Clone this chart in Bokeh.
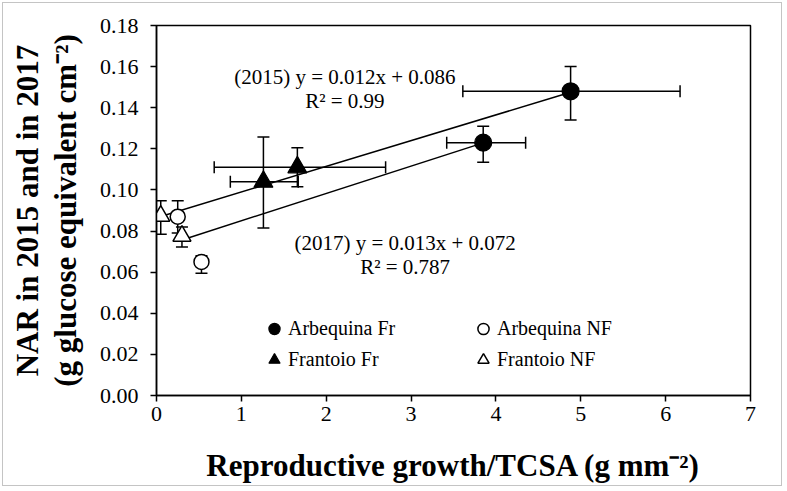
from bokeh.plotting import figure
from bokeh.models import (ColumnDataSource, Whisker, Legend, LegendItem, Range1d,
                          Label, FixedTicker, TeeHead, NumeralTickFormatter)
from bokeh.embed import file_html
from bokeh.resources import INLINE

# ---------------- data ----------------
# each series: [2015, 2017]
arb_fr_x = [4.88, 3.85]
arb_fr_y = [0.148, 0.123]
arb_fr_xlo = [3.61, 3.42]
arb_fr_xhi = [6.17, 4.35]
arb_fr_ylo = [0.134, 0.1135]
arb_fr_yhi = [0.160, 0.131]

arb_nf_x = [0.25, 0.53]
arb_nf_y = [0.087, 0.065]
arb_nf_ylo = [0.079, 0.0595]
arb_nf_yhi = [0.0948, 0.068]

fr_fr_x = [1.66, 1.26]
fr_fr_y = [0.111, 0.104]
fr_fr_xlo = [0.68, 0.87]
fr_fr_xhi = [2.70, 1.67]
fr_fr_ylo = [0.1015, 0.0815]
fr_fr_yhi = [0.1205, 0.1258]

fr_nf_x = [0.05, 0.30]
fr_nf_y = [0.0873, 0.0776]
fr_nf_ylo = [0.0785, 0.0722]
fr_nf_yhi = [0.0948, 0.082]

# trend lines (slope, intercept, x-range)
trend_years = ["2015", "2017"]
trend_slope = [0.0125, 0.0133]
trend_intercept = [0.0865, 0.0717]
trend_xmin = [0.05, 0.30]
trend_xmax = [4.88, 3.85]
eq_text_2015 = ["(2015) y = 0.012x + 0.086", "R² = 0.99"]
eq_text_2017 = ["(2017) y = 0.013x + 0.072", "R² = 0.787"]

x_ticks = [0, 1, 2, 3, 4, 5, 6, 7]
y_ticks = [0.00, 0.02, 0.04, 0.06, 0.08, 0.10, 0.12, 0.14, 0.16, 0.18]

FONT = "Liberation Serif"

p = figure(width=780, height=484, output_backend="svg", toolbar_location=None,
           x_range=Range1d(0, 7), y_range=Range1d(0, 0.18),
           min_border_left=153, min_border_right=33, min_border_top=22, min_border_bottom=92,
           styles={"margin": "2px", "border": "1.5px solid #c4c4c4"})
p.grid.visible = False
p.outline_line_color = "black"
p.outline_line_width = 1.5
p.background_fill_color = "white"
p.border_fill_color = "white"

for ax in (p.xaxis[0], p.yaxis[0]):
    ax.axis_line_color = "black"
    ax.axis_line_width = 1.5
    ax.major_tick_line_color = "black"
    ax.major_tick_line_width = 1.5
    ax.major_tick_out = 6
    ax.major_tick_in = 0
    ax.minor_tick_line_color = None
    ax.major_label_text_font = FONT
    ax.major_label_text_font_size = "22px"
    ax.major_label_text_color = "black"
    ax.axis_label_text_font = FONT
    ax.axis_label_text_font_size = "31px"
    ax.axis_label_text_font_style = "bold"
    ax.axis_label_text_color = "black"
    ax.axis_label_text_line_height = 1.1

p.xaxis.ticker = FixedTicker(ticks=x_ticks)
p.yaxis.ticker = FixedTicker(ticks=y_ticks)
p.yaxis.formatter = NumeralTickFormatter(format="0.00")
p.xaxis.major_label_standoff = 5
p.yaxis.major_label_standoff = 12
p.xaxis.axis_label = "Reproductive growth/TCSA (g mm⁻²)"
p.yaxis.axis_label = "NAR in 2015 and in 2017\n(g glucose equivalent cm⁻²)"
p.xaxis.axis_label_standoff = 24
p.yaxis.axis_label_standoff = 14

# trend lines
for s, b, x0, x1 in zip(trend_slope, trend_intercept, trend_xmin, trend_xmax):
    p.line([x0, x1], [s * x0 + b, s * x1 + b], line_color="black", line_width=1.5)

# error bars
def add_whiskers(base, lo, hi, dim):
    src = ColumnDataSource(dict(base=base, lower=lo, upper=hi))
    w = Whisker(source=src, base="base", lower="lower", upper="upper", dimension=dim,
                line_color="black", line_width=1.5,
                upper_head=TeeHead(size=12, line_color="black", line_width=1.5),
                lower_head=TeeHead(size=12, line_color="black", line_width=1.5))
    p.add_layout(w)

add_whiskers(arb_fr_y, arb_fr_xlo, arb_fr_xhi, "width")
add_whiskers(fr_fr_y, fr_fr_xlo, fr_fr_xhi, "width")
add_whiskers(arb_fr_x, arb_fr_ylo, arb_fr_yhi, "height")
add_whiskers(arb_nf_x, arb_nf_ylo, arb_nf_yhi, "height")
add_whiskers(fr_fr_x, fr_fr_ylo, fr_fr_yhi, "height")
add_whiskers(fr_nf_x, fr_nf_ylo, fr_nf_yhi, "height")

r_arb_fr = p.scatter(arb_fr_x, arb_fr_y, marker="circle", size=17,
                     fill_color="black", line_color="black", line_width=1.2)
r_arb_nf = p.scatter(arb_nf_x, arb_nf_y, marker="circle", size=15,
                     fill_color="white", line_color="black", line_width=1.5)
r_fr_fr = p.scatter(fr_fr_x, fr_fr_y, marker="triangle", size=19,
                    fill_color="black", line_color="black", line_width=1.2)
r_fr_nf = p.scatter(fr_nf_x, fr_nf_y, marker="triangle", size=18,
                    fill_color="white", line_color="black", line_width=1.5)

legend = Legend(items=[
    LegendItem(label="Arbequina Fr", renderers=[r_arb_fr]),
    LegendItem(label="Frantoio Fr", renderers=[r_fr_fr]),
    LegendItem(label="Arbequina NF", renderers=[r_arb_nf]),
    LegendItem(label="Frantoio NF", renderers=[r_fr_nf]),
], location=(104, 20), orientation="vertical", ncols=2,
    glyph_width=28, glyph_height=31, label_height=31, label_width=181,
    label_standoff=0, spacing=0, padding=0, margin=0,
    border_line_color=None, background_fill_alpha=0,
    label_text_font=FONT, label_text_font_size="20px", label_text_color="black")
p.add_layout(legend)

for txt, yy in zip(eq_text_2015, [0.155, 0.1435]):
    p.add_layout(Label(x=2.22, y=yy, text=txt, text_align="center", text_baseline="middle",
                       text_font=FONT, text_font_size="21px", text_color="black"))
for txt, yy in zip(eq_text_2017, [0.0741, 0.0624]):
    p.add_layout(Label(x=2.93, y=yy, text=txt, text_align="center", text_baseline="middle",
                       text_font=FONT, text_font_size="21px", text_color="black"))

open("out.html", "w").write(file_html(p, INLINE))
